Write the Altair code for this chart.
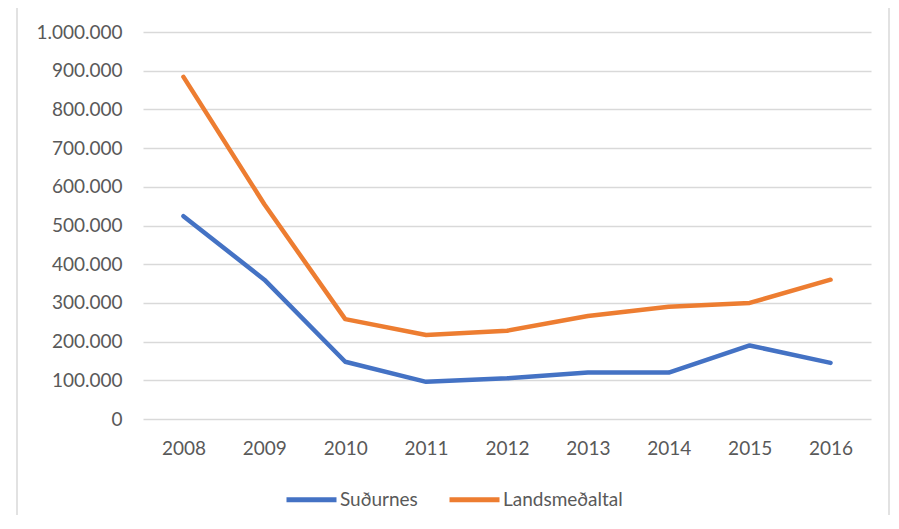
import altair as alt
import pandas as pd

years = ["2008", "2009", "2010", "2011", "2012", "2013", "2014", "2015", "2016"]
sudurnes = [524000, 360000, 148000, 96000, 105000, 120000, 120000, 190000, 145000]
landsmedaltal = [884000, 555000, 258000, 217000, 228000, 266000, 290000, 300000, 360000]
series_names = ["Suðurnes", "Landsmeðaltal"]
series_colors = ["#4472C4", "#ED7D31"]
y_ticks = [0, 100000, 200000, 300000, 400000, 500000, 600000, 700000, 800000, 900000, 1000000]

rows = []
for name, vals in zip(series_names, [sudurnes, landsmedaltal]):
    for yr, v in zip(years, vals):
        rows.append({"year": yr, "value": v, "series": name})
df = pd.DataFrame(rows)

FONT = "Lato"
TXT = "#595959"

lines = alt.Chart(df).mark_line(strokeWidth=4.5, strokeCap="round", strokeJoin="round").encode(
    x=alt.X("year:O", sort=years,
            scale=alt.Scale(type="point", padding=0.5),
            axis=alt.Axis(title=None, labelAngle=0, ticks=False, domain=False, grid=False,
                          labelPadding=20, labelFont=FONT, labelFontSize=19, labelColor=TXT)),
    y=alt.Y("value:Q",
            scale=alt.Scale(domain=[0, 1000000], nice=False),
            axis=alt.Axis(title=None, values=y_ticks, ticks=False, domain=False,
                          grid=True, gridColor="#d9d9d9", gridWidth=1.5,
                          labelPadding=21, labelFont=FONT, labelFontSize=19, labelColor=TXT,
                          labelExpr="replace(format(datum.value, ','), regexp(',', 'g'), '.')")),
    color=alt.Color("series:N",
                    scale=alt.Scale(domain=series_names, range=series_colors),
                    sort=series_names,
                    legend=alt.Legend(title=None, orient="none", direction="horizontal",
                                      legendX=141, legendY=440, padding=0,
                                      symbolType="stroke", symbolSize=2500, symbolStrokeWidth=5,
                                      labelFont=FONT, labelFontSize=19, labelColor=TXT,
                                      labelOffset=1, columnPadding=21)),
)

border = alt.Chart(alt.Data(values=[{"a": 1}])).mark_rect(
    fill=None, stroke="#d9d9d9", strokeWidth=1.5
).encode(
    x=alt.value(-126), x2=alt.value(746), y=alt.value(-27), y2=alt.value(600)
)

chart = alt.layer(border, lines).properties(
    width=728, height=387,
    autosize=alt.AutoSizeParams(type="none"),
    padding={"left": 135, "top": 24, "right": 20, "bottom": 96},
    background="white",
).configure_view(stroke=None)

chart.save("out.html", embed_options={"renderer": "svg", "actions": False})
